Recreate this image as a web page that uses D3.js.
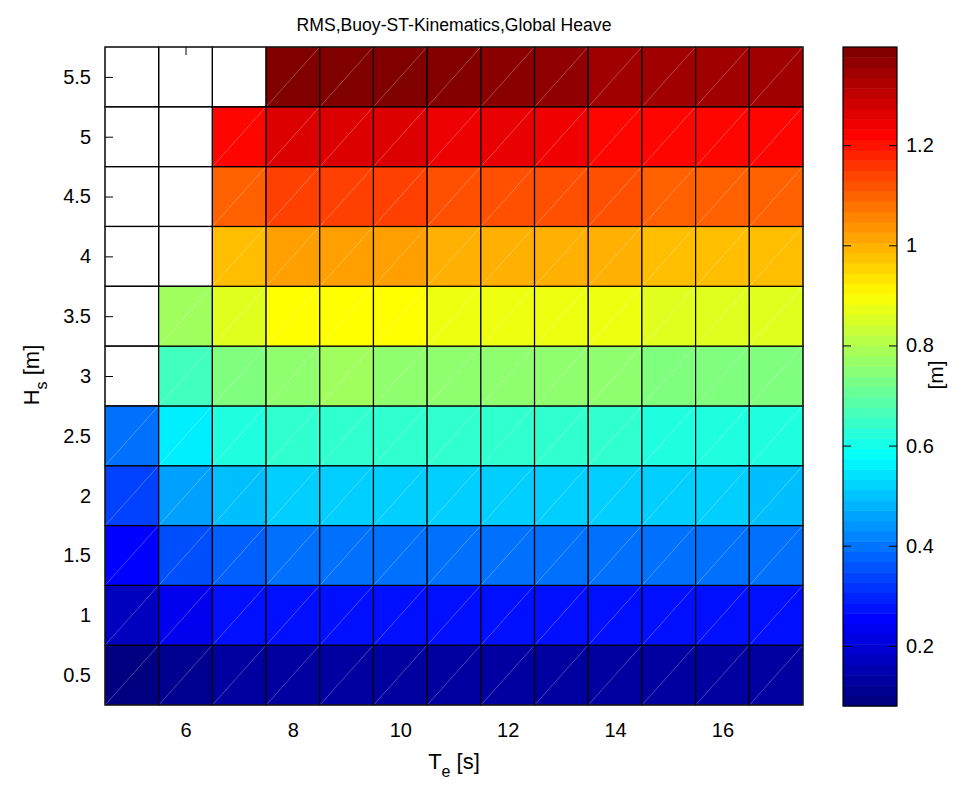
<html>
<head>
<title>RMS Global Heave</title>
<style>
  body { margin: 0; background: white; }
  text { font-family: "Liberation Sans", Arial, sans-serif; }
</style>
</head>
<body>
<svg id="container" width="979" height="787" style="background:white"></svg>
<script src="https://d3js.org/d3.v7.min.js"></script>
<script>
// energy period Te [s] (columns) and significant wave height Hs [m] (rows)
const te = [5, 6, 7, 8, 9, 10, 11, 12, 13, 14, 15, 16, 17]
const hs = [0.5, 1, 1.5, 2, 2.5, 3, 3.5, 4, 4.5, 5, 5.5]
// RMS global heave [m], one row per Hs, null = no data
const heave = [
  [0.080, 0.101, 0.122, 0.122, 0.122, 0.122, 0.122, 0.122, 0.122, 0.122, 0.122, 0.122, 0.122],
  [0.162, 0.224, 0.264, 0.264, 0.264, 0.264, 0.264, 0.264, 0.264, 0.264, 0.264, 0.264, 0.264],
  [0.245, 0.347, 0.368, 0.389, 0.389, 0.389, 0.389, 0.389, 0.389, 0.389, 0.389, 0.389, 0.389],
  [0.327, 0.451, 0.491, 0.512, 0.512, 0.512, 0.512, 0.512, 0.512, 0.512, 0.512, 0.512, 0.491],
  [0.389, 0.553, 0.614, 0.635, 0.635, 0.635, 0.635, 0.635, 0.635, 0.635, 0.614, 0.614, 0.614],
  [null, 0.656, 0.738, 0.759, 0.780, 0.759, 0.759, 0.759, 0.759, 0.759, 0.738, 0.738, 0.738],
  [null, 0.780, 0.862, 0.903, 0.903, 0.903, 0.882, 0.882, 0.882, 0.882, 0.862, 0.862, 0.862],
  [null, null, 0.985, 1.025, 1.025, 1.025, 1.005, 1.005, 1.005, 1.005, 0.985, 0.985, 0.985],
  [null, null, 1.108, 1.149, 1.149, 1.149, 1.129, 1.129, 1.129, 1.129, 1.108, 1.108, 1.108],
  [null, null, 1.225, 1.275, 1.275, 1.275, 1.254, 1.260, 1.250, 1.225, 1.225, 1.225, 1.225],
  [null, null, null, 1.396, 1.396, 1.396, 1.390, 1.383, 1.375, 1.354, 1.354, 1.354, 1.354]
]
const xTicks = [6, 8, 10, 12, 14, 16]
const cbTicks = [0.2, 0.4, 0.6, 0.8, 1, 1.2]
const cmin = 0.08, cmax = 1.396

let svg = d3.select("#container")
let fontFam = "'Liberation Sans', Arial, sans-serif"

// matlab jet
function jet(t) {
  let c = v => Math.round(255 * Math.max(0, Math.min(1, v)))
  let r = Math.min(4 * t - 1.5, -4 * t + 4.5)
  let g = Math.min(4 * t - 0.5, -4 * t + 3.5)
  let b = Math.min(4 * t + 0.5, -4 * t + 2.5)
  return d3.rgb(c(r), c(g), c(b)).formatHex()
}
let color = v => jet((v - cmin) / (cmax - cmin))

function styleAxis(g) {
  g.attr("font-size", 20).attr("font-family", fontFam)
  g.selectAll(".domain").remove()
  g.selectAll("text").attr("fill", "#000")
  g.selectAll("line").attr("stroke", "#000")
}

let x = d3.scaleLinear().domain([4.5, 17.5]).range([105, 803])
let y = d3.scaleLinear().domain([0.25, 5.75]).range([705, 47])

// inward ticks first, cells cover them except where there's no data
svg.append("g").attr("transform", "translate(0,705)")
    .call(d3.axisBottom(x).tickValues(xTicks).tickSizeInner(-8).tickSizeOuter(0).tickPadding(18))
    .call(styleAxis)
svg.append("g").attr("transform", "translate(0,47)")
    .call(d3.axisTop(x).tickValues(xTicks).tickSizeInner(-8).tickSizeOuter(0).tickFormat(""))
    .call(styleAxis)
svg.append("g").attr("transform", "translate(105,0)")
    .call(d3.axisLeft(y).tickValues(hs).tickSizeInner(-8).tickSizeOuter(0).tickPadding(14).tickFormat(d => d))
    .call(styleAxis)
svg.append("g").attr("transform", "translate(803,0)")
    .call(d3.axisRight(y).tickValues(hs).tickSizeInner(-8).tickSizeOuter(0).tickFormat(""))
    .call(styleAxis)

let cells = []
hs.forEach((h, i) => te.forEach((t, j) => {
  cells.push({te: t, hs: h, v: heave[i][j]})
}))

let cellG = svg.append("g")
cellG.selectAll("rect")
  .data(cells)
  .enter()
  .append("rect")
  .attr("x", d => x(d.te - 0.5))
  .attr("y", d => y(d.hs + 0.25))
  .attr("width", d => x(d.te + 0.5) - x(d.te - 0.5))
  .attr("height", d => y(d.hs - 0.25) - y(d.hs + 0.25))
  .attr("fill", d => d.v == null ? "none" : color(d.v))
  .attr("stroke", "#000")
  .attr("stroke-width", 1.2)

// the faint triangle edges of the surface
cellG.selectAll("line")
  .data(cells.filter(d => d.v != null))
  .enter()
  .append("line")
  .attr("x1", d => x(d.te - 0.5) + 1)
  .attr("y1", d => y(d.hs - 0.25) - 1)
  .attr("x2", d => x(d.te + 0.5) - 1)
  .attr("y2", d => y(d.hs + 0.25) + 1)
  .attr("stroke", "rgba(255,255,255,0.35)")
  .attr("stroke-width", 0.8)

// axes box
svg.append("rect")
  .attr("x", 105).attr("y", 47).attr("width", 698).attr("height", 658)
  .attr("fill", "none").attr("stroke", "#222").attr("stroke-width", 1)

// title and labels
svg.append("text").attr("x", 454).attr("y", 31).attr("text-anchor", "middle")
  .style("font-size", "17.6px").text("RMS,Buoy-ST-Kinematics,Global Heave")

let xl = svg.append("text").attr("x", 454).attr("y", 769).attr("text-anchor", "middle")
  .style("font-size", "22px")
xl.append("tspan").text("T")
xl.append("tspan").attr("dy", 8).style("font-size", "16px").text("e")
xl.append("tspan").attr("dy", -8).text(" [s]")

let yl = svg.append("text").attr("transform", "translate(39,375) rotate(-90)")
  .attr("text-anchor", "middle").style("font-size", "22px")
yl.append("tspan").text("H")
yl.append("tspan").attr("dy", 8).style("font-size", "16px").text("s")
yl.append("tspan").attr("dy", -8).text(" [m]")

// colorbar
let cy = d3.scaleLinear().domain([cmin, cmax]).range([706, 47])
let nLev = 64
let levels = d3.range(nLev)
let cb = svg.append("g")
cb.selectAll("rect")
  .data(levels)
  .enter()
  .append("rect")
  .attr("x", 843)
  .attr("width", 54)
  .attr("y", k => cy(cmin + (k + 1) * (cmax - cmin) / nLev))
  .attr("height", k => cy(cmin + k * (cmax - cmin) / nLev) - cy(cmin + (k + 1) * (cmax - cmin) / nLev) + 0.5)
  .attr("fill", k => jet(k / (nLev - 1)))

svg.append("g").attr("transform", "translate(897,0)")
  .call(d3.axisRight(cy).tickValues(cbTicks).tickSizeInner(-8).tickSizeOuter(0).tickPadding(9).tickFormat(d => d))
  .call(styleAxis)
svg.append("g").attr("transform", "translate(843,0)")
  .call(d3.axisLeft(cy).tickValues(cbTicks).tickSizeInner(-8).tickSizeOuter(0).tickFormat(""))
  .call(styleAxis)
svg.append("rect")
  .attr("x", 843).attr("y", 47).attr("width", 54).attr("height", 659)
  .attr("fill", "none").attr("stroke", "#000").attr("stroke-width", 1.2)

svg.append("text").attr("transform", "translate(943,375) rotate(-90)")
  .attr("text-anchor", "middle").style("font-size", "21px").text("[m]")
</script>
</body>
</html>
